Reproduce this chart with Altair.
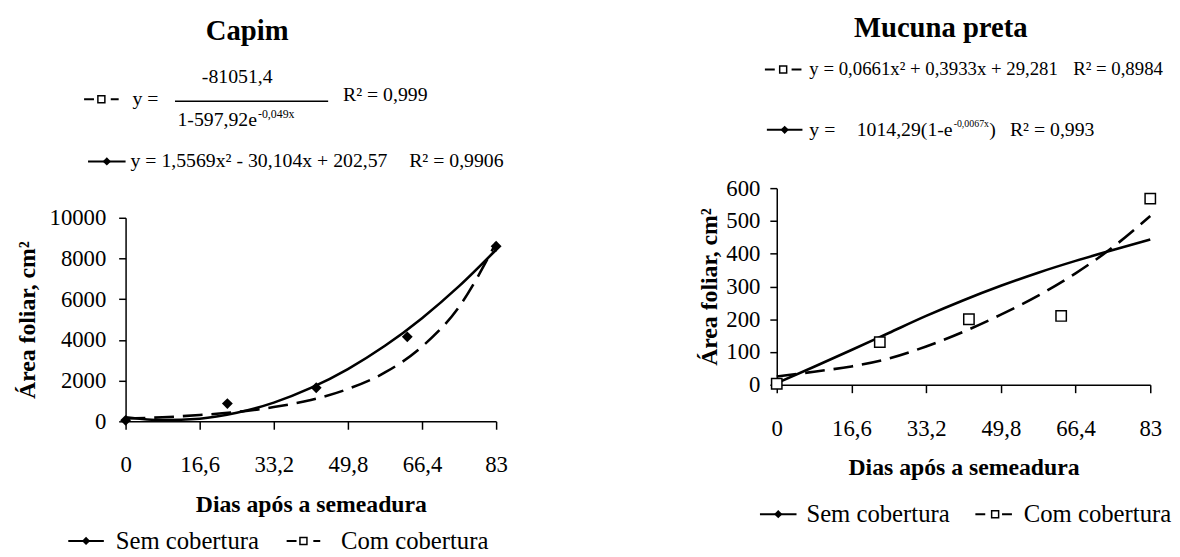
import altair as alt
import pandas as pd

FONT = "Liberation Serif"

# ---------------- data ----------------
days_fit = [0, 8.3, 16.6, 24.9, 33.2, 41.5, 49.8, 58.1, 66.4, 74.7, 83]
capim_sem_fit = [200, 60, 130, 420, 920, 1640, 2570, 3710, 5070, 6640, 8430]
capim_com_fit = [140, 200, 310, 460, 700, 1050, 1590, 2400, 3670, 5630, 8770]
capim_days_obs = [0, 22.8, 42.7, 63.1, 83]
capim_sem_obs = [50, 870, 1650, 4150, 8600]

mucuna_sem_fit = [5, 55, 106, 158, 210, 258, 302, 342, 378, 411, 443]
mucuna_com_fit = [25, 40, 56, 80, 117, 162, 214, 272, 340, 420, 515]
mucuna_days_obs = [0, 22.9, 42.7, 63.2, 83]
mucuna_com_obs = [3, 130, 200, 210, 568]

x_ticks = [0, 16.6, 33.2, 49.8, 66.4, 83]
capim_y_ticks = [0, 2000, 4000, 6000, 8000, 10000]
mucuna_y_ticks = [0, 100, 200, 300, 400, 500, 600]

x_title = "Dias após a semeadura"
y_title = "Área foliar, cm²"
leg_sem = "Sem cobertura"
leg_com = "Com cobertura"

one = alt.Data(values=[{"k": 0}])
EQ = 20      # equation font size


def T(s, x, y, size=EQ, weight="normal", align="left"):
    return alt.Chart(one).mark_text(
        text=s, align=align, baseline="middle", font=FONT, fontSize=size,
        fontWeight=weight, color="black"
    ).encode(x=alt.value(x), y=alt.value(y))


def R(x1, x2, y, dash=None, width=2):
    kw = dict(color="black", strokeWidth=width)
    if dash:
        kw["strokeDash"] = dash
    return alt.Chart(one).mark_rule(**kw).encode(
        x=alt.value(x1), x2=alt.value(x2), y=alt.value(y))


def P(x, y, shape, filled, size):
    if filled:
        m = alt.Chart(one).mark_point(shape=shape, filled=True, color="black",
                                      size=size, opacity=1)
    else:
        m = alt.Chart(one).mark_point(shape=shape, filled=False, color="black",
                                      fill="white", fillOpacity=1,
                                      strokeWidth=1.5, size=size, opacity=1)
    return m.encode(x=alt.value(x), y=alt.value(y))


def sym_solid(x1, x2, y):
    return [R(x1, x2, y, width=2), P((x1 + x2) / 2, y, "diamond", True, 70)]


def sym_dash(x1, x2, y):
    return [R(x1, x2, y, dash=[10, 17], width=2),
            P((x1 + x2) / 2, y, "square", False, 50)]


def axes(ydomain, yrange, yticks, ylabpad, ytitlepad):
    xenc = alt.X(
        "d:Q",
        scale=alt.Scale(domain=[0, 83], nice=False, zero=False),
        axis=alt.Axis(
            values=x_ticks, labelExpr="replace(toString(datum.value), '.', ',')",
            title=x_title, grid=False, labelOverlap=False, labelFlush=False,
            domainColor="black", domainWidth=1.5, tickColor="black", tickWidth=1.5,
            tickSize=8, labelFont=FONT, labelFontSize=23, labelColor="black",
            labelPadding=25, titleFont=FONT, titleFontSize=24, titleFontWeight="bold",
            titleColor="black", titlePadding=16),
    )
    if yrange:
        yscale = alt.Scale(domain=ydomain, range=yrange, nice=False, zero=True)
    else:
        yscale = alt.Scale(domain=ydomain, nice=False, zero=True)
    yenc = alt.Y(
        "v:Q",
        scale=yscale,
        axis=alt.Axis(
            values=yticks, tickCount=len(yticks), format="d", title=y_title,
            grid=False, labelFlush=False, labelOverlap=False,
            domainColor="black", domainWidth=1.5, tickColor="black", tickWidth=1.5,
            tickSize=7, labelFont=FONT, labelFontSize=23, labelColor="black",
            labelPadding=ylabpad, titleFont=FONT, titleFontSize=24,
            titleFontWeight="bold", titleColor="black", titlePadding=ytitlepad),
    )
    return xenc, yenc


# ---------------- Capim panel ----------------
OFF = 30  # the Capim plot starts 30px lower than the Mucuna plot
cs = pd.DataFrame({"d": days_fit, "v": capim_sem_fit})
cc = pd.DataFrame({"d": days_fit, "v": capim_com_fit})
co = pd.DataFrame({"d": capim_days_obs, "v": capim_sem_obs})
X1, Y1 = axes([0, 10000], [206 + OFF, OFF], capim_y_ticks, 13, 10)

c_sem = alt.Chart(cs).mark_line(color="black", strokeWidth=2.6, interpolate="monotone").encode(x=X1, y=Y1)
c_com = alt.Chart(cc).mark_line(color="black", strokeWidth=2.6, strokeDash=[20, 9],
                                interpolate="monotone").encode(x=X1, y=Y1)
c_pts = alt.Chart(co).mark_point(shape="diamond", filled=True, color="black", size=120,
                                 opacity=1).encode(x=X1, y=Y1)

LEG1 = 357 + OFF - 30  # legend row under the Capim plot
c_ann = [
    T("Capim", 123, -189 + OFF, size=29, weight="bold", align="center"),
    *sym_dash(-42, -7, -120 + OFF),
    T("y =", 7, -120 + OFF),
    T("-81051,4", 113, -142 + OFF, align="center"),
    R(50, 205, -118 + OFF, width=1.5),
    T("1-597,92e", 133, -99 + OFF, align="right"),
    T("-0,049x", 134, -105 + OFF, size=12),
    T("R² = 0,999", 220, -124 + OFF),
    *sym_solid(-38, 0, -57 + OFF),
    T("y = 1,5569x² - 30,104x + 202,57", 5, -57 + OFF),
    T("R² = 0,9906", 287, -57 + OFF),
    *sym_solid(-58, -22, LEG1),
    T(leg_sem, -10, LEG1, size=25),
    *sym_dash(163, 197, LEG1),
    T(leg_com, 218, LEG1, size=25),
]
capim = alt.layer(c_sem, c_com, c_pts, *c_ann).properties(width=375, height=206 + OFF)

# ---------------- Mucuna preta panel ----------------
ms = pd.DataFrame({"d": days_fit, "v": mucuna_sem_fit})
mc = pd.DataFrame({"d": days_fit, "v": mucuna_com_fit})
mo = pd.DataFrame({"d": mucuna_days_obs, "v": mucuna_com_obs})
X2, Y2 = axes([0, 600], None, mucuna_y_ticks, 10, 4)

m_sem = alt.Chart(ms).mark_line(color="black", strokeWidth=2.6, interpolate="monotone").encode(x=X2, y=Y2)
m_com = alt.Chart(mc).mark_line(color="black", strokeWidth=2.6, strokeDash=[20, 9],
                                interpolate="monotone").encode(x=X2, y=Y2)
m_pts = alt.Chart(mo).mark_point(shape="square", filled=False, color="black", fill="white",
                                 fillOpacity=1, strokeWidth=1.5, size=110,
                                 opacity=1).encode(x=X2, y=Y2)

m_ann = [
    T("Mucuna preta", 166, -162, size=29, weight="bold", align="center"),
    *sym_dash(-12, 25, -120),
    T("y = 0,0661x² + 0,3933x + 29,281", 33, -120, size=19),
    T("R² = 0,8984", 300, -120, size=19),
    *sym_solid(-10, 26, -59),
    T("y =", 33, -59),
    T("1014,29(1-e", 178, -59, align="right"),
    T("-0,0067x", 179, -65, size=10),
    T(")", 215, -59),
    T("R² = 0,993", 236, -59),
    *sym_solid(-17, 20, 330),
    T(leg_sem, 30, 330, size=25),
    *sym_dash(201, 241, 330),
    T(leg_com, 250, 330, size=25),
]
mucuna = alt.layer(m_sem, m_com, m_pts, *m_ann).properties(width=378, height=199)

chart = alt.hconcat(capim, mucuna, spacing=192).properties(
    padding={"top": 3, "left": 7, "right": 0, "bottom": 0}, background="white"
).configure_view(stroke=None)

chart.save("out.html", embed_options={"renderer": "svg", "actions": False})
